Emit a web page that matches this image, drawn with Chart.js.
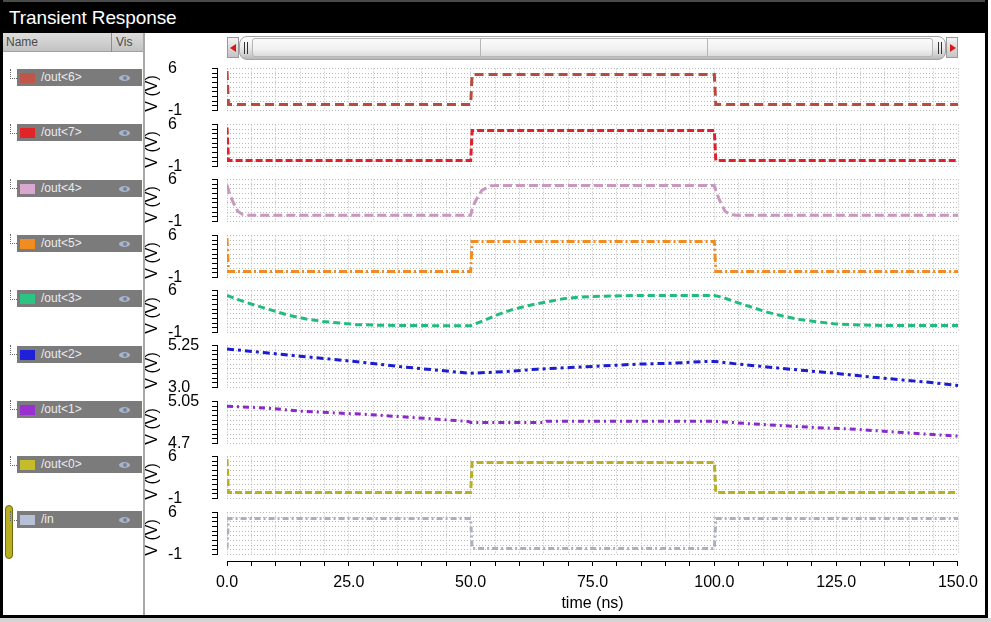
<!DOCTYPE html>
<html><head><meta charset="utf-8">
<script src="https://cdn.jsdelivr.net/npm/chart.js@4.4.1/dist/chart.umd.min.js"></script>
<style>
html,body{margin:0;padding:0;width:991px;height:622px;overflow:hidden;background:#fff;font-family:"Liberation Sans",Arial,sans-serif;}
.abs{position:absolute;}
#titlebar{left:0;top:0;width:985px;height:33px;background:#000;border-top:2px solid #4a4a4a;box-sizing:border-box;}
#titlebar span{position:absolute;left:9px;top:5px;color:#fff;font-size:19px;letter-spacing:-0.1px;}
#leftborder{left:0;top:0;width:3px;height:618px;background:#000;}
#rightborder{left:985px;top:0;width:3px;height:618px;background:#000;}
#bottomborder{left:0;top:615px;width:988px;height:3px;background:#000;}
#bottomstrip{left:0;top:618px;width:991px;height:4px;background:#d4d4d4;}
#panel{left:3px;top:33px;width:140px;height:582px;background:#fff;}
#panelsep{left:143px;top:33px;width:2px;height:582px;background:#a8a8a8;}
#hdr{left:3px;top:33px;width:140px;height:19px;background:linear-gradient(#dedede,#c2c2c2);border-bottom:1px solid #a0a0a0;box-sizing:border-box;font-size:12px;color:#4a4a4a;}
#hdr .n{position:absolute;left:3px;top:2px;}
#hdr .v{position:absolute;left:113px;top:2px;}
#hdr .d{position:absolute;left:108px;top:0;width:1px;height:19px;background:#8e8e8e;}
.row{position:absolute;left:17px;width:125px;height:17px;background:#7b7b7b;}
.row .sw{position:absolute;left:3px;top:4px;width:15px;height:10px;}
.row .tx{position:absolute;left:24px;top:1px;font-size:12px;color:#ececec;}
.row .eye{position:absolute;left:102px;top:6px;width:11px;height:6px;border-radius:50%;background:#aab6c8;}
.row .eye i{position:absolute;left:4px;top:1px;width:4px;height:4px;border-radius:50%;background:#7484a0;}
.tree{position:absolute;left:10px;width:6px;height:9px;border-left:1px dotted #666;border-bottom:1px dotted #666;}
#olive{left:5px;top:505px;width:6px;height:52px;background:#b8b020;border:1px solid #6e6a10;border-radius:4px;}
.btn{top:37px;width:12px;height:21px;background:linear-gradient(#f4f4f4,#c4c4c4);border:1px solid #9a9a9a;box-sizing:border-box;}
.triL{position:absolute;left:2px;top:6px;width:0;height:0;border-top:4px solid transparent;border-bottom:4px solid transparent;border-right:6px solid #d81818;}
.triR{position:absolute;left:3px;top:6px;width:0;height:0;border-top:4px solid transparent;border-bottom:4px solid transparent;border-left:6px solid #d81818;}
#thumb{left:239px;top:36px;width:707px;height:24px;background:linear-gradient(#fdfdfd,#ececec 45%,#d0d0d0 80%,#b8b8b8);border:1px solid #a4a4a4;border-radius:8px;box-sizing:border-box;}
#inner{left:252px;top:38px;width:681px;height:19px;border:1px solid #b6b6b6;border-radius:3px;box-sizing:border-box;background:linear-gradient(#fbfbfb,#f0f0f0 60%,#dcdcdc);}
.sep{top:39px;width:1px;height:17px;background:#b6b6b6;}
.grip{top:42px;width:1px;height:12px;background:#333;}
canvas{position:absolute;}
</style>
</head><body>
<div id="titlebar" class="abs"><span>Transient Response</span></div>
<div id="panel" class="abs"></div>
<div id="hdr" class="abs"><span class="n">Name</span><span class="d"></span><span class="v">Vis</span></div>
<div id="panelsep" class="abs"></div>
<div id="olive" class="abs"></div>
<div class="abs btn" style="left:227px"><div class="triL"></div></div>
<div id="thumb" class="abs"></div>
<div id="inner" class="abs"></div>
<div class="abs sep" style="left:480px"></div>
<div class="abs sep" style="left:707px"></div>
<div class="abs grip" style="left:244px"></div><div class="abs grip" style="left:247px"></div>
<div class="abs grip" style="left:938px"></div><div class="abs grip" style="left:941px"></div>
<div class="abs btn" style="left:946px"><div class="triR"></div></div>
<div id="leftborder" class="abs"></div>
<div id="rightborder" class="abs"></div>
<div id="bottomborder" class="abs"></div>
<div id="bottomstrip" class="abs"></div>
<script>
// ---------------- data ----------------
const signalNames = ['/out<6>','/out<7>','/out<4>','/out<5>','/out<3>','/out<2>','/out<1>','/out<0>','/in'];

const tDigital = [0, 0.3, 50, 50.3, 100, 100.3, 150];
const vOut6 = [5.6, 0, 0, 5, 5, 0, 0];
const vOut7 = [5.5, 0, 0, 5, 5, 0, 0];
const vOut5 = [5.6, 0, 0, 5, 5, 0, 0];
const vOut0 = [5.6, 0, 0, 5, 5, 0, 0];
const vIn   = [0, 5, 5, 0, 0, 5, 5];

const tOut4 = [0, 0.5, 1.2, 2.2, 3.2, 4.5, 50, 50.3, 50.9, 52.3, 54, 55.5, 100, 100.5, 101.2, 102.2, 103.2, 104.5, 150];
const vOut4 = [5.1, 3.7, 2.3, 0.7, 0.17, 0.05, 0.05, 1.0, 2.3, 4.2, 4.95, 5.0, 5.0, 3.7, 2.3, 0.7, 0.17, 0.05, 0.05];

const tOut3 = [0, 2.6, 5.7, 9.1, 12.4, 16.3, 19.6, 23.1, 26.6, 32, 39, 50, 51, 52.5, 55.4, 58.7, 62.2, 65.6, 69, 72.4, 77.2, 84, 100, 101.6, 104.3, 107.4, 110.8, 114.2, 117.6, 121.1, 124.5, 127.9, 135, 150];
const vOut3 = [5.2, 4.4, 3.56, 2.74, 1.93, 1.23, 0.84, 0.58, 0.3, 0.19, 0.14, 0.12, 0.45, 0.9, 1.93, 2.86, 3.56, 4.1, 4.64, 4.9, 5.07, 5.19, 5.19, 4.9, 4.1, 3.3, 2.4, 1.7, 1.15, 0.78, 0.46, 0.3, 0.14, 0.14];

const tOut2 = [0, 8, 15, 21.7, 28.6, 35.4, 42.3, 49.8, 56.6, 63.6, 70.4, 77.3, 84.1, 91, 97.7, 100, 104, 110.8, 117.6, 124.5, 131.4, 138.2, 145, 150];
const vOut2 = [5.07, 4.86, 4.68, 4.51, 4.33, 4.12, 3.95, 3.76, 3.84, 3.98, 4.07, 4.16, 4.25, 4.3, 4.39, 4.4, 4.28, 4.1, 3.93, 3.77, 3.58, 3.41, 3.25, 3.1];

const tOut1 = [0, 8, 15, 21.7, 28.6, 35.4, 42.3, 49.5, 50, 65, 65.5, 100, 107.4, 114.2, 121.1, 127.9, 134.7, 141.6, 150];
const vOut1 = [5.011, 4.997, 4.97, 4.956, 4.943, 4.924, 4.905, 4.884, 4.876, 4.875, 4.886, 4.886, 4.864, 4.848, 4.832, 4.821, 4.802, 4.783, 4.761];

const seriesTimes  = [tDigital, tDigital, tOut4, tDigital, tOut3, tOut2, tOut1, tDigital, tDigital];
const seriesValues = [vOut6, vOut7, vOut4, vOut5, vOut3, vOut2, vOut1, vOut0, vIn];

const yMins = [-1, -1, -1, -1, -1, 3.0, 4.7, -1, -1];
const yMaxs = [6, 6, 6, 6, 6, 5.25, 5.05, 6, 6];
const yTopLabels    = ['6', '6', '6', '6', '6', '5.25', '5.05', '6', '6'];
const yBottomLabels = ['-1', '-1', '-1', '-1', '-1', '3.0', '4.7', '-1', '-1'];
const yTitle = 'V (V)';

const xMin = 0, xMax = 150, xStep = 5, xLabelEvery = 25;
const xTitle = 'time (ns)';

// ---------------- styles ----------------
const colors = ['#b84a3e', '#e0202a', '#c898c0', '#f08c20', '#22bb7e', '#1c1cd0', '#8c28c8', '#b8b020', '#abb0c0'];
const swatchColors = ['#bf5648', '#e02428', '#d8a8d0', '#f08c20', '#2cc484', '#2020d8', '#9a30d0', '#c4bc28', '#b8c0d8'];
const dashes = [[9,5],[7,3],[9,4],[8,3,2,3],[7,4],[7,4,3,4],[6,4,2,4],[7,3],[6,3,2,3]];
const GRID = '#b9b9b9';
const FONT = '"Liberation Sans", Arial, sans-serif';

// ---------------- left panel ----------------
signalNames.forEach((name, i) => {
  const cy = 77.5 + 55.3 * i;
  const tr = document.createElement('div');
  tr.className = 'tree';
  tr.style.top = (cy - 9) + 'px';
  document.body.appendChild(tr);
  const r = document.createElement('div');
  r.className = 'row';
  r.style.top = (cy - 8.5) + 'px';
  r.innerHTML = '<div class="sw" style="background:' + swatchColors[i] + '"></div><div class="tx"></div><div class="eye"><i></i></div>';
  r.querySelector('.tx').textContent = name;
  document.body.appendChild(r);
});

// ---------------- charts ----------------
const titlePlugin = {
  id: 'vTitle',
  afterDraw(chart, args, opts) {
    if (!opts.text) return;
    const {ctx, chartArea} = chart;
    ctx.save();
    ctx.font = '16px ' + FONT;
    ctx.fillStyle = '#000';
    ctx.textAlign = 'center';
    ctx.textBaseline = 'middle';
    ctx.translate(opts.x, (chartArea.top + chartArea.bottom) / 2 + 4);
    ctx.rotate(-Math.PI / 2);
    ctx.fillText(opts.text, 0, 0);
    ctx.restore();
  }
};

function evenTicks(scale) {
  const n = 9, lo = scale.min, hi = scale.max, out = [];
  for (let k = 0; k <= n; k++) out.push({value: lo + (hi - lo) * k / n});
  scale.ticks = out;
}

const CANVAS_LEFT = 145, CANVAS_W = 840;
signalNames.forEach((name, i) => {
  const areaTop = Math.round(68.4 + 55.4 * i);
  const cv = document.createElement('canvas');
  cv.width = CANVAS_W; cv.height = 67;
  cv.style.left = CANVAS_LEFT + 'px';
  cv.style.top = (areaTop - 12) + 'px';
  cv.style.width = CANVAS_W + 'px'; cv.style.height = '67px';
  document.body.appendChild(cv);
  const pts = seriesTimes[i].map((t, k) => ({x: t, y: seriesValues[i][k]}));
  new Chart(cv, {
    type: 'line',
    data: {datasets: [{
      label: name, data: pts, borderColor: colors[i], borderWidth: 3,
      borderDash: dashes[i], pointRadius: 0, tension: 0, fill: false
    }]},
    options: {
      responsive: false, animation: false, events: [],
      layout: {padding: {left: 23, right: 27, top: 12, bottom: 12}},
      plugins: {legend: {display: false}, tooltip: {enabled: false}, vTitle: {text: yTitle, x: 8}},
      scales: {
        x: {
          type: 'linear', min: xMin, max: xMax,
          ticks: {display: false, stepSize: xStep, autoSkip: false},
          grid: {color: GRID, lineWidth: 1, drawTicks: false},
          border: {display: false, dash: [1, 2]},
          afterFit: s => { s.height = 0; }
        },
        yg: {
          type: 'linear', position: 'left', weight: 0,
          min: yMins[i], max: yMaxs[i],
          afterBuildTicks: evenTicks,
          ticks: {display: false, autoSkip: false},
          grid: {color: GRID, lineWidth: 1, drawTicks: false},
          border: {display: false, dash: [1, 2]},
          afterFit: s => { s.width = 10; }
        },
        y: {
          type: 'linear', position: 'left', weight: 1,
          min: yMins[i], max: yMaxs[i],
          afterBuildTicks: evenTicks,
          ticks: {
            autoSkip: false, crossAlign: 'far', color: '#000',
            font: {family: FONT, size: 16},
            callback: (v, idx, ticks) => idx === ticks.length - 1 ? yTopLabels[i] : (idx === 0 ? yBottomLabels[i] : '')
          },
          grid: {drawOnChartArea: false, drawTicks: true, tickLength: 5, tickColor: '#000', tickWidth: 1},
          border: {display: true, color: '#000', width: 1},
          afterFit: s => { s.width = 49; }
        }
      }
    },
    plugins: [titlePlugin]
  });
});

// x axis
const cx = document.createElement('canvas');
cx.width = CANVAS_W; cx.height = 82;
cx.style.left = CANVAS_LEFT + 'px'; cx.style.top = '540px';
cx.style.width = CANVAS_W + 'px'; cx.style.height = '82px';
document.body.appendChild(cx);
new Chart(cx, {
  type: 'line',
  data: {datasets: []},
  options: {
    responsive: false, animation: false, events: [],
    layout: {padding: {left: 82, right: 27, top: 0, bottom: 0}},
    plugins: {legend: {display: false}, tooltip: {enabled: false}},
    scales: {
      x: {
        type: 'linear', min: xMin, max: xMax,
        ticks: {
          stepSize: xStep, autoSkip: false, maxRotation: 0, padding: 7, color: '#000',
          font: {family: FONT, size: 16},
          callback: v => (v % xLabelEvery === 0 ? v.toFixed(1) : '')
        },
        grid: {drawOnChartArea: false, drawTicks: true, tickLength: 5, tickColor: '#000'},
        border: {display: true, color: '#000', width: 1},
        title: {display: true, text: xTitle, color: '#000', font: {family: FONT, size: 16}, padding: {top: 0, bottom: 9}},
        afterFit: s => { s.height = 61; }
      },
      y: {display: false, min: 0, max: 1}
    }
  }
});
</script>
</body></html>
